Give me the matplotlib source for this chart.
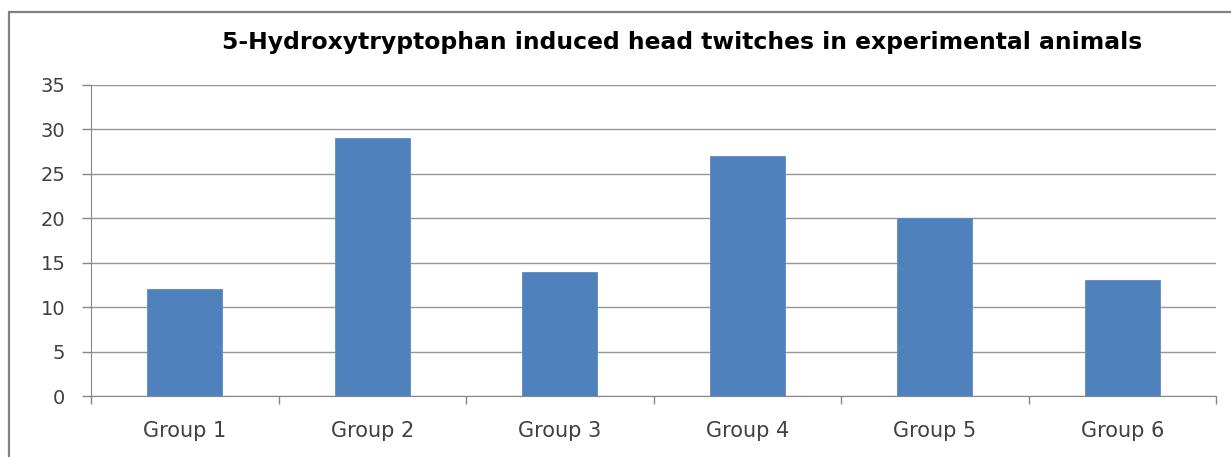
import matplotlib
matplotlib.use("Agg")
import matplotlib.pyplot as plt
from matplotlib.patches import Rectangle

groups = ["Group 1", "Group 2", "Group 3", "Group 4", "Group 5", "Group 6"]
twitches = [12, 29, 14, 27, 20, 13]
yticks = [0, 5, 10, 15, 20, 25, 30, 35]

plt.rcParams['font.family'] = ['DejaVu Sans']

fig = plt.figure(figsize=(12.31, 4.57), dpi=100)
ax = fig.add_axes([91 / 1231, 1 - 396 / 457, 1125 / 1231, 311 / 457])

x = list(range(len(groups)))
ax.bar(x, twitches, width=0.4, color='#4F81BD', edgecolor='#5A8AC6', linewidth=0.6, zorder=3)

ax.set_xlim(-0.5, len(groups) - 0.5)
ax.set_ylim(0, 35)
ax.set_yticks(yticks)
ax.set_yticklabels([str(v) for v in yticks], fontsize=14, color='#404040')
ax.set_xticks(x)
ax.set_xticklabels(groups, fontsize=15, color='#404040')
ax.set_xticks([i - 0.5 for i in range(len(groups) + 1)], minor=True)

ax.tick_params(axis='x', which='major', length=0, pad=18)
ax.tick_params(axis='x', which='minor', length=6, width=1, color='#868686', direction='out')
ax.tick_params(axis='y', length=6.5, width=1, color='#868686', pad=12)

ax.grid(axis='y', color='#969696', linewidth=1, zorder=0)
ax.set_axisbelow(True)
for side in ['top', 'right']:
    ax.spines[side].set_visible(False)
ax.spines['left'].set_color('#868686')
ax.spines['bottom'].set_color('#868686')

fig.text(682 / 1231, 1 - 43 / 457, "5-Hydroxytryptophan induced head twitches in experimental animals",
         ha='center', va='center', fontsize=16.9, fontweight='bold', color='black')

# chart frame (cut off at right and bottom in the original)
fig.patches.append(Rectangle((9 / 1231, -0.1), 1.2, 1.1 - 12 / 457, transform=fig.transFigure,
                             fill=False, edgecolor='#808080', linewidth=1.6))

fig.savefig("out.png", dpi=100)
